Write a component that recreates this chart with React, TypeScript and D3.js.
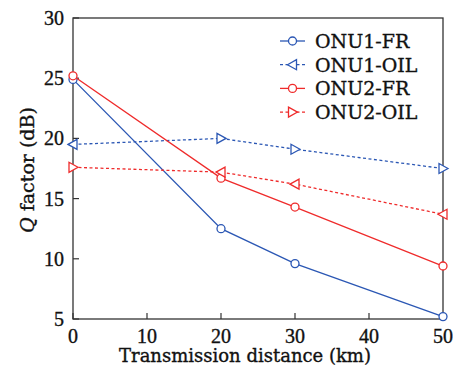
import React from "react";
import * as d3 from "d3";

const distances = [0, 20, 30, 50];
const onu1FR = [24.9, 12.5, 9.6, 5.2];
const onu1OIL = [19.5, 20.0, 19.1, 17.5];
const onu2FR = [25.2, 16.7, 14.3, 9.4];
const onu2OIL = [17.6, 17.2, 16.2, 13.7];
// triangle direction per point: "l" = pointing left, "r" = pointing right
const onu1OILDir = ["l", "r", "r", "r"];
const onu2OILDir = ["r", "l", "l", "l"];
const xTicks = [0, 10, 20, 30, 40, 50];
const yTicks = [5, 10, 15, 20, 25, 30];

const BLUE = "#2b57b4";
const RED = "#ef2b2b";

type Series = {
  name: string;
  values: number[];
  color: string;
  dashed: boolean;
  marker: "circle" | "tri";
  dirs?: string[];
  legendDir?: string;
};

const series: Series[] = [
  { name: "ONU1-FR", values: onu1FR, color: BLUE, dashed: false, marker: "circle" },
  { name: "ONU1-OIL", values: onu1OIL, color: BLUE, dashed: true, marker: "tri", dirs: onu1OILDir, legendDir: "l" },
  { name: "ONU2-FR", values: onu2FR, color: RED, dashed: false, marker: "circle" },
  { name: "ONU2-OIL", values: onu2OIL, color: RED, dashed: true, marker: "tri", dirs: onu2OILDir, legendDir: "r" },
];

const W = 453, H = 370;
const left = 73, right = 443, top = 18, bottom = 319;

function Marker({ x, y, kind, dir, color }: { x: number; y: number; kind: string; dir?: string; color: string }) {
  if (kind === "circle") {
    return <circle cx={x} cy={y} r={4} fill="white" stroke={color} strokeWidth={1.3} />;
  }
  const s = 5;
  const pts =
    dir === "l"
      ? [[x - s, y], [x + s * 0.8, y - s], [x + s * 0.8, y + s]]
      : [[x + s, y], [x - s * 0.8, y - s], [x - s * 0.8, y + s]];
  return <polygon points={pts.map((p) => p.join(",")).join(" ")} fill="white" stroke={color} strokeWidth={1.3} />;
}

export default function App() {
  const x = d3.scaleLinear().domain([0, 50]).range([left, right]);
  const y = d3.scaleLinear().domain([5, 30]).range([bottom, top]);
  const line = d3
    .line<number>()
    .x((_, i) => x(distances[i]))
    .y((d) => y(d));
  const font = "'DejaVu Serif', serif";
  const tickFont = "'Liberation Serif', serif";
  const axisColor = "#333";
  const txt = "#111";
  const ts = { stroke: txt, strokeWidth: 0.35 };
  return (
    <svg width={W} height={H} style={{ position: "absolute", left: 0, top: 0, background: "white" }}>
      {/* frame */}
      <rect x={left} y={top} width={right - left} height={bottom - top} fill="none" stroke={axisColor} strokeWidth={1.3} />
      {/* ticks */}
      {xTicks.map((t) => (
        <g key={"x" + t}>
          <line x1={x(t)} x2={x(t)} y1={bottom} y2={bottom - 6} stroke={axisColor} strokeWidth={1.2} />
          <text x={x(t)} y={343} textAnchor="middle" fontFamily={tickFont} fontSize={20} fill={txt} {...ts}>
            {t}
          </text>
        </g>
      ))}
      {yTicks.map((t) => (
        <g key={"y" + t}>
          <line x1={left} x2={left + 6} y1={y(t)} y2={y(t)} stroke={axisColor} strokeWidth={1.2} />
          <text x={64} y={y(t) + 7} textAnchor="end" fontFamily={tickFont} fontSize={20} fill={txt} {...ts}>
            {t}
          </text>
        </g>
      ))}
      {/* axis titles */}
      <text x={245} y={362} textAnchor="middle" fontFamily={font} fontSize={18} fill={txt} {...ts}>
        Transmission distance (km)
      </text>
      <text transform={`translate(34,170) rotate(-90)`} textAnchor="middle" fontFamily={font} fontSize={19} fill={txt} {...ts}>
        <tspan fontStyle="italic">Q</tspan> factor (dB)
      </text>
      {/* series */}
      {series.map((s) => (
        <g key={s.name}>
          <path d={line(s.values) || ""} fill="none" stroke={s.color} strokeWidth={1.3} strokeDasharray={s.dashed ? "3,2.5" : undefined} />
          {s.values.map((v, i) => (
            <Marker key={i} x={x(distances[i])} y={y(v)} kind={s.marker} dir={s.dirs ? s.dirs[i] : undefined} color={s.color} />
          ))}
        </g>
      ))}
      {/* legend */}
      {series.map((s, i) => {
        const ly = 41 + i * 23.7;
        return (
          <g key={"lg" + s.name}>
            <line x1={280} x2={305} y1={ly} y2={ly} stroke={s.color} strokeWidth={1.3} strokeDasharray={s.dashed ? "3,2.5" : undefined} />
            <Marker x={292.5} y={ly} kind={s.marker} dir={s.legendDir} color={s.color} />
            <text x={315} y={ly + 7} fontFamily={font} fontSize={19} fill={txt} {...ts}>
              {s.name}
            </text>
          </g>
        );
      })}
    </svg>
  );
}
